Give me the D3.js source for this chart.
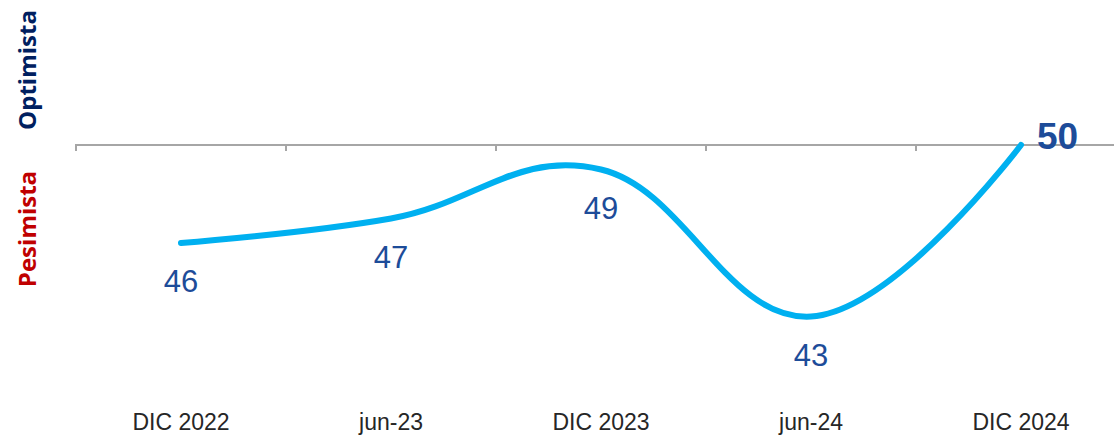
<!DOCTYPE html>
<html>
<head>
<meta charset="utf-8">
<script src="https://cdn.jsdelivr.net/npm/d3@7"></script>
<style>
  body { margin: 0; background: #fff; }
  svg { display: block; }
</style>
</head>
<body>
<svg id="chart"></svg>
<script>
let periods = ["DIC 2022", "jun-23", "DIC 2023", "jun-24", "DIC 2024"]
let values = [46, 47, 49, 43, 50]
let neutral = 50

let width = 1114,
    height = 435,
    margins = {left: 76, top: 145}

let svg = d3.select("#chart")
  .attr("width", width)
  .attr("height", height)

function make_scales() {
  return {
    x: d3.scaleBand()
         .domain(periods)
         .range([margins.left, margins.left + 210 * periods.length])
         .padding(0),
    y: d3.scaleLinear()
         .domain([42, 50])
         .range([341, margins.top])
  }
}

function add_axis(scales) {
  let g = svg.append("g")
    .attr("transform", `translate(0,${scales.y(neutral)})`)

  g.append("line")
    .attr("x1", margins.left).attr("x2", width)
    .attr("stroke", "#a6a6a6").attr("stroke-width", 2)

  // tick marks sit on the band edges
  g.selectAll(".tick")
    .data(periods).enter()
    .append("line")
    .attr("x1", d => scales.x(d)).attr("x2", d => scales.x(d))
    .attr("y1", -1).attr("y2", 6)
    .attr("stroke", "#a6a6a6").attr("stroke-width", 2)

  svg.append("g")
    .selectAll("text")
    .data(periods).enter()
    .append("text")
    .attr("x", d => scales.x(d) + scales.x.bandwidth() / 2)
    .attr("y", 430)
    .attr("text-anchor", "middle")
    .style("font", "23px 'Liberation Sans', Arial, sans-serif")
    .attr("fill", "#262626")
    .text(d => d)
}

function draw_line(scales) {
  let cx = (d, i) => scales.x(periods[i]) + scales.x.bandwidth() / 2
  let line = d3.line()
    .x(cx)
    .y(d => scales.y(d))
    .curve(d3.curveCardinal.tension(-0.2))

  svg.append("path")
    .datum(values)
    .attr("d", line)
    .attr("fill", "none")
    .attr("stroke", "#00b0f0")
    .attr("stroke-width", 6)
    .attr("stroke-linecap", "round")

  let last = values.length - 1
  svg.append("g")
    .selectAll("text")
    .data(values).enter()
    .append("text")
    .attr("x", (d, i) => i == last ? cx(d, i) + 16 : cx(d, i))
    .attr("y", (d, i) => i == last ? scales.y(d) + 4 : scales.y(d) + 49)
    .attr("text-anchor", (d, i) => i == last ? "start" : "middle")
    .style("font-family", "'Liberation Sans', Arial, sans-serif")
    .style("font-size", (d, i) => i == last ? "37px" : "31px")
    .style("font-weight", (d, i) => i == last ? "bold" : "normal")
    .attr("fill", "#1d4c99")
    .text(d => d)
}

function add_side_labels() {
  let side = [
    {text: "Optimista", y: 70, color: "#002060"},
    {text: "Pesimista", y: 229, color: "#c00000"}
  ]
  svg.append("g")
    .selectAll("text")
    .data(side).enter()
    .append("text")
    .attr("transform", d => `translate(36,${d.y}) rotate(-90)`)
    .attr("text-anchor", "middle")
    .style("font", "bold 24px 'Open Sans', 'Noto Sans', sans-serif")
    .attr("fill", d => d.color)
    .text(d => d.text)
}

let scales = make_scales()
add_axis(scales)
draw_line(scales)
add_side_labels()
</script>
</body>
</html>
